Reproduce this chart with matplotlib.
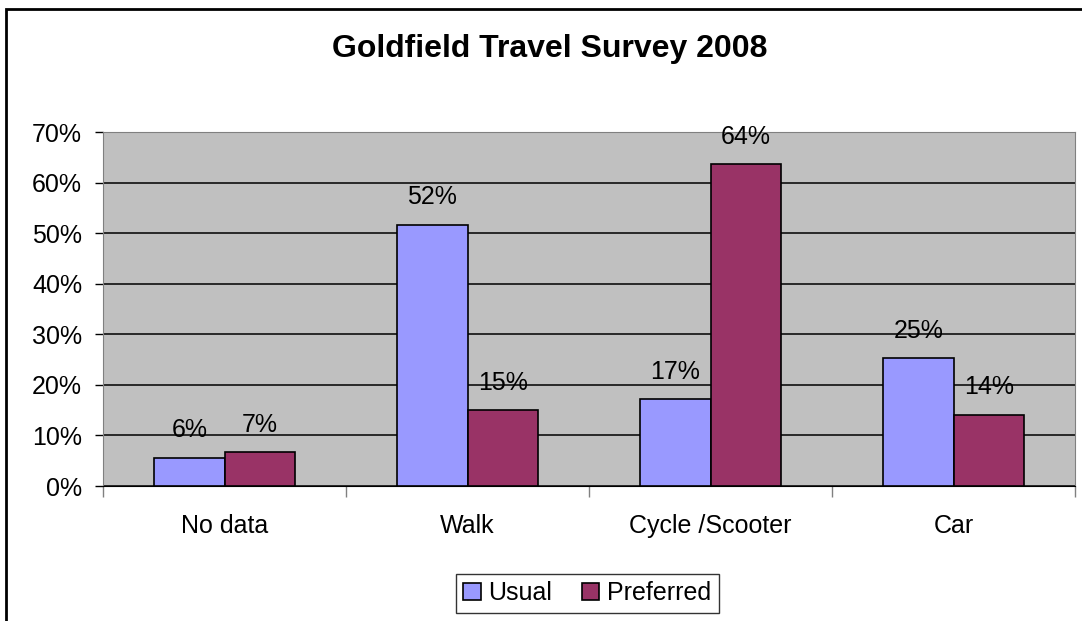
import matplotlib.pyplot as plt
import numpy as np
from matplotlib.patches import Rectangle
from matplotlib.ticker import FuncFormatter, FixedLocator

plt.rcParams['font.family'] = ['Liberation Sans', 'DejaVu Sans']

categories = ["No data", "Walk", "Cycle /Scooter", "Car"]
usual = [5.6, 51.7, 17.2, 25.3]
preferred = [6.7, 15.0, 63.7, 14.1]
series_names = ["Usual", "Preferred"]
colors = ["#9999FF", "#993366"]

fig = plt.figure(figsize=(10.82, 6.21), dpi=100)
ax = fig.add_axes([103 / 1082, 1 - 486 / 621, (1075 - 103) / 1082, (486 - 132) / 621])

x = np.arange(len(categories))
w = 0.29
b1 = ax.bar(x - w / 2, usual, w, color=colors[0], edgecolor="black", linewidth=1.2, label=series_names[0], zorder=3)
b2 = ax.bar(x + w / 2, preferred, w, color=colors[1], edgecolor="black", linewidth=1.2, label=series_names[1], zorder=3)

for bars, vals in [(b1, usual), (b2, preferred)]:
    for rect, v in zip(bars, vals):
        ax.annotate(f"{v:.0f}%", (rect.get_x() + rect.get_width() / 2, v),
                    xytext=(0, 11), textcoords="offset points", ha="center", va="bottom",
                    fontsize=18, zorder=4)

ax.set_facecolor("#C0C0C0")
ax.set_xlim(-0.5, len(categories) - 0.5)
ax.set_ylim(0, 70)
ax.set_yticks(np.arange(0, 71, 10))
ax.yaxis.set_major_formatter(FuncFormatter(lambda v, p: f"{v:.0f}%"))
ax.grid(axis="y", color="black", linewidth=1.1, zorder=1)
ax.tick_params(axis="y", labelsize=18, length=6, width=1, direction="out", pad=9)

ax.set_xticks(x)
ax.set_xticklabels(categories, fontsize=18)
ax.tick_params(axis="x", length=0, pad=20)
ax.xaxis.set_minor_locator(FixedLocator(np.arange(-0.5, len(categories), 1)))
ax.tick_params(axis="x", which="minor", length=8, width=1, color="#808080")

for s in ["top", "right"]:
    ax.spines[s].set_color("#808080")
ax.spines["left"].set_color("#808080")
ax.spines["bottom"].set_color("black")

fig.text(550 / 1082, 1 - 57 / 621, "Goldfield Travel Survey 2008", fontsize=23,
         fontweight="bold", ha="center", va="baseline")

leg = ax.legend(loc="center", bbox_to_anchor=(587 / 1082, 1 - 593 / 621),
                bbox_transform=fig.transFigure, ncol=2, fontsize=18, frameon=True,
                fancybox=False, edgecolor="black", handlelength=0.7, handleheight=0.7,
                handletextpad=0.3, columnspacing=1.2, borderpad=0.3)
leg.get_frame().set_linewidth(1)

fig.patches.append(Rectangle((6 / 1082, -0.05), 1.2, 1 - 9 / 621 + 0.05,
                             transform=fig.transFigure, fill=False,
                             edgecolor="black", linewidth=2))

fig.savefig("out.png", dpi=100)
